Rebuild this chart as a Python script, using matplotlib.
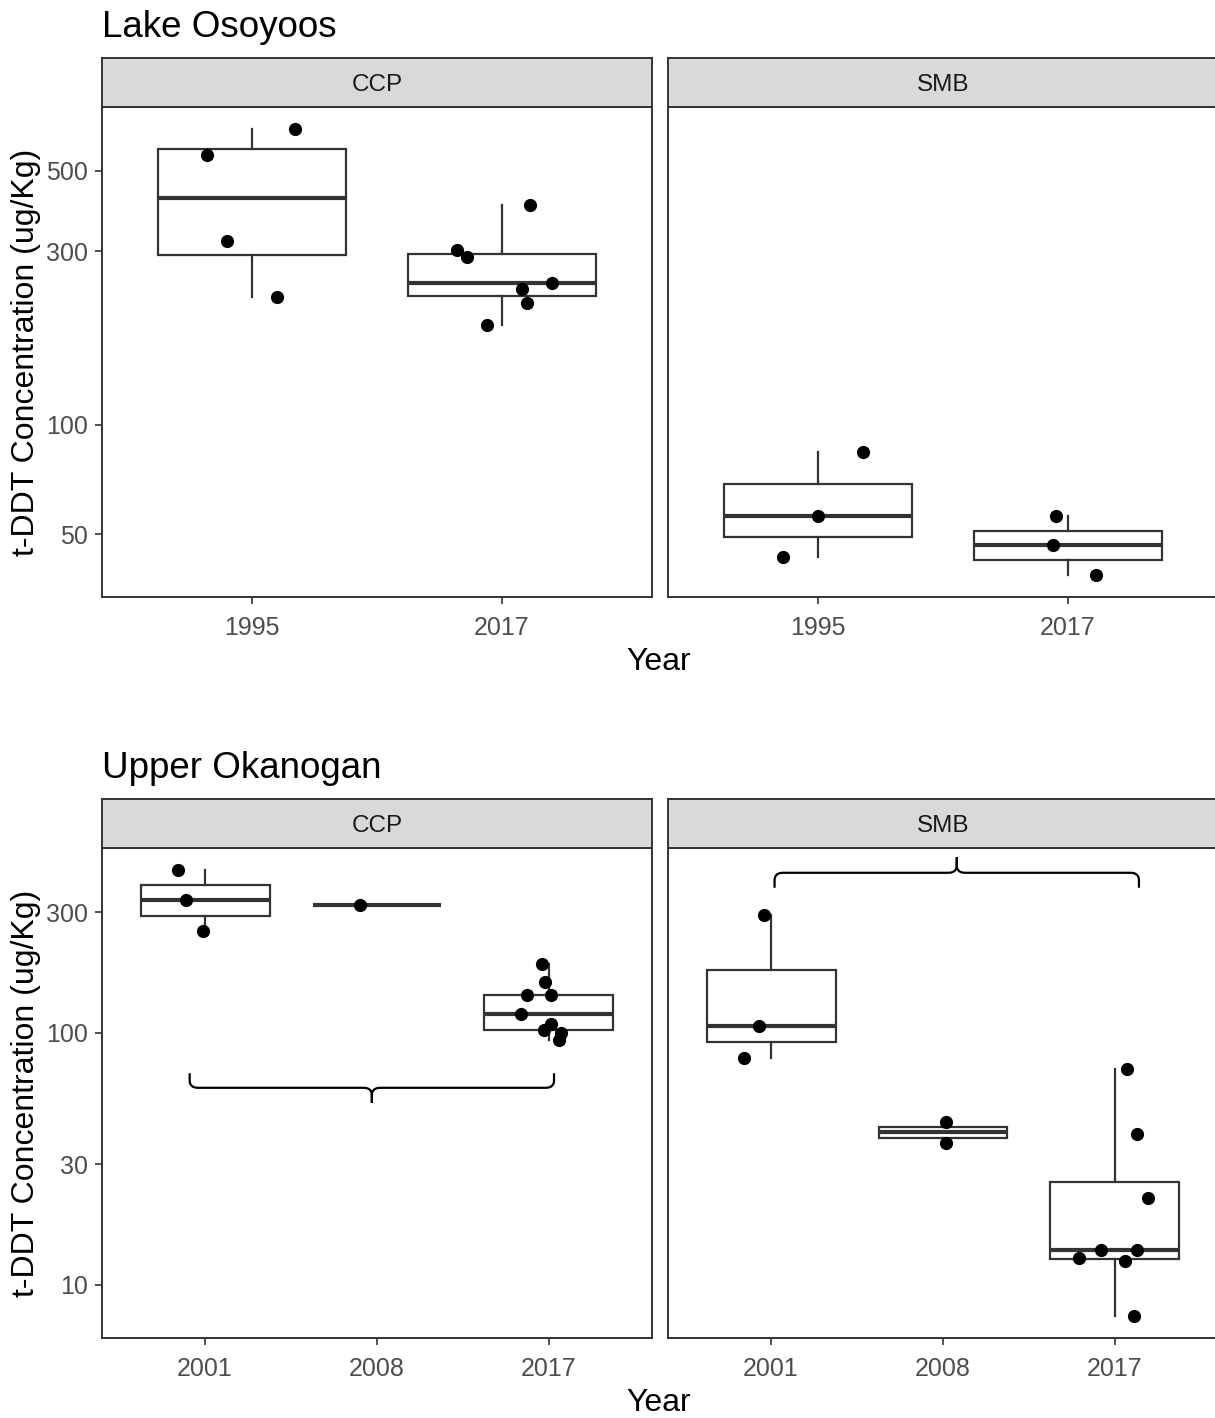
"""Faceted box + jitter plots of t-DDT concentration, two lakes, CCP vs SMB, log y."""

import matplotlib
matplotlib.use("Agg")
import matplotlib.pyplot as plt
import numpy as np
from matplotlib.cbook import boxplot_stats

plt.rcParams["font.family"] = ["Liberation Sans", "DejaVu Sans"]

# ---------------------------------------------------------------------------
# data (ug/Kg)
# ---------------------------------------------------------------------------
osoyoos_years = ["1995", "2017"]
osoyoos_ccp = [[650, 552, 320, 225], [402, 303, 289, 245, 237, 216, 188]]
osoyoos_ccp_jit = [[0.17, -0.18, -0.10, 0.10], [0.11, -0.18, -0.14, 0.20, 0.08, 0.10, -0.06]]
osoyoos_smb = [[84, 56, 43.3], [56, 46.8, 38.7]]
osoyoos_smb_jit = [[0.18, 0.0, -0.14], [-0.05, -0.06, 0.11]]
osoyoos_ticks = [50, 100, 300, 500]

okanogan_years = ["2001", "2008", "2017"]
okanogan_ccp = [[440, 335, 252], [320],
                [187, 158, 141, 141, 119, 108, 102.5, 99.4, 93.6]]
okanogan_ccp_jit = [[-0.16, -0.11, -0.01], [-0.10],
                    [-0.04, -0.02, -0.13, 0.01, -0.16, 0.01, -0.03, 0.07, 0.06]]
okanogan_smb = [[293, 106, 79], [44.2, 36.5],
                [72, 39.5, 22.1, 13.8, 13.8, 12.75, 12.47, 7.54]]
okanogan_smb_jit = [[-0.04, -0.07, -0.16], [0.02, 0.02],
                    [0.07, 0.13, 0.19, -0.08, 0.13, -0.21, 0.06, 0.11]]
okanogan_ticks = [10, 30, 100, 300]

# brace annotations: (x start, x end, y at ends, y of bar, y of tip)
okanogan_ccp_brace = (-0.09, 2.03, 69, 60.4, 52.6)
okanogan_smb_brace = (0.02, 2.14, 375, 430, 496)

EDGE = "#333333"
W, H = 1215, 1418


def _fx(px):
    return px / W


def _fy(py):
    return 1 - py / H


def log_stats(values):
    """ggplot computes box stats after the log10 transform, so do the same"""
    st = boxplot_stats(np.log10(values), whis=1.5)[0]
    for k in ("med", "q1", "q3", "whislo", "whishi"):
        st[k] = 10 ** st[k]
    st["fliers"] = []
    return st


def draw_panel(ax, groups, jitter, ylim):
    stats = [log_stats(g) for g in groups]
    pos = np.arange(len(groups))
    ax.bxp(
        stats, positions=pos, widths=0.75, showfliers=False, showcaps=False,
        patch_artist=True,
        boxprops=dict(facecolor="white", edgecolor=EDGE, linewidth=1.6),
        whiskerprops=dict(color=EDGE, linewidth=1.6),
        medianprops=dict(color=EDGE, linewidth=3.0, solid_capstyle="butt"),
    )
    for i, (g, j) in enumerate(zip(groups, jitter)):
        ax.plot(i + np.array(j), g, "o", color="black", ms=9.5, mec="none", zorder=5)
    ax.set_yscale("log")
    ax.set_ylim(*ylim)
    ax.set_xlim(-0.6, len(groups) - 0.4)
    ax.yaxis.set_minor_locator(matplotlib.ticker.NullLocator())
    for sp in ax.spines.values():
        sp.set_color(EDGE)
        sp.set_linewidth(1.4)
    ax.tick_params(direction="out", length=5, width=1.2, color=EDGE,
                   labelcolor="#4D4D4D", labelsize=18, pad=5)
    ax.tick_params(axis="x", pad=9)


def draw_brace(ax, spec, ru=0.05, rv=0.03):
    """curly brace in (category, log10 y) space"""
    x0, x1, y_end, y_bar, y_tip = spec
    ve, vb, vt = np.log10([y_end, y_bar, y_tip])
    xc = (x0 + x1) / 2
    s_end = np.sign(ve - vb)
    s_tip = np.sign(vt - vb)
    t = np.linspace(0, 1, 12)[:, None]

    def quad(p0, c, p2):
        p0, c, p2 = map(np.array, (p0, c, p2))
        return (1 - t) ** 2 * p0 + 2 * (1 - t) * t * c + t ** 2 * p2

    for xe, d in ((x0, 1), (x1, -1)):
        pts = np.vstack([
            [[xe, ve]],
            quad((xe, vb + s_end * rv), (xe, vb), (xe + d * ru, vb)),
            quad((xc - d * ru, vb), (xc, vb), (xc, vb + s_tip * rv)),
            [[xc, vt]],
        ])
        ax.plot(pts[:, 0], 10 ** pts[:, 1], color="black", lw=1.6,
                solid_capstyle="butt", zorder=4)


def log_limits(*group_sets):
    allv = np.log10(np.concatenate([np.ravel(v) for gs in group_sets for v in gs]))
    lo, hi = allv.min(), allv.max()
    pad = 0.05 * (hi - lo)
    return 10 ** (lo - pad), 10 ** (hi + pad)


def draw_row(fig, top_px, title, years, ccp, ccp_jit, smb, smb_jit, ticks):
    strip_top = top_px
    strip_bot = top_px + 49
    panel_bot = strip_bot + 490
    ylim = log_limits(ccp, smb)
    axes = []
    for left_px, groups, jit, lab in ((102, ccp, ccp_jit, "CCP"), (668, smb, smb_jit, "SMB")):
        ax = fig.add_axes([_fx(left_px), _fy(panel_bot), _fx(550), (panel_bot - strip_bot) / H])
        draw_panel(ax, groups, jit, ylim)
        ax.set_xticks(range(len(years)), years)
        sx = fig.add_axes([_fx(left_px), _fy(strip_bot), _fx(550), (strip_bot - strip_top) / H])
        sx.set_facecolor("#D9D9D9")
        sx.set_xticks([])
        sx.set_yticks([])
        for sp in sx.spines.values():
            sp.set_color(EDGE)
            sp.set_linewidth(1.4)
        sx.text(0.5, 0.5, lab, ha="center", va="center_baseline", fontsize=17.5,
                color="#1A1A1A", transform=sx.transAxes)
        axes.append(ax)
    axes[0].set_yticks(ticks, [str(t) for t in ticks])
    axes[1].set_yticks(ticks)
    axes[1].tick_params(left=False, labelleft=False)
    fig.text(_fx(102), _fy(strip_top - 21), title, ha="left", va="baseline",
             fontsize=26.5, color="black")
    fig.text(_fx(658.5), _fy(panel_bot + 65), "Year", ha="center", va="center",
             fontsize=23, color="black")
    fig.text(_fx(26), _fy((strip_bot + panel_bot) / 2), "t-DDT Concentration (ug/Kg)",
             rotation=90, ha="center", va="center", fontsize=23, color="black")
    return axes


fig = plt.figure(figsize=(W / 100, H / 100), dpi=100)
fig.patch.set_facecolor("white")

draw_row(fig, 58, "Lake Osoyoos", osoyoos_years, osoyoos_ccp, osoyoos_ccp_jit,
         osoyoos_smb, osoyoos_smb_jit, osoyoos_ticks)
ax_ccp, ax_smb = draw_row(fig, 799, "Upper Okanogan", okanogan_years, okanogan_ccp,
                          okanogan_ccp_jit, okanogan_smb, okanogan_smb_jit, okanogan_ticks)
draw_brace(ax_ccp, okanogan_ccp_brace)
draw_brace(ax_smb, okanogan_smb_brace)

fig.savefig("out.png", dpi=100, facecolor="white")
